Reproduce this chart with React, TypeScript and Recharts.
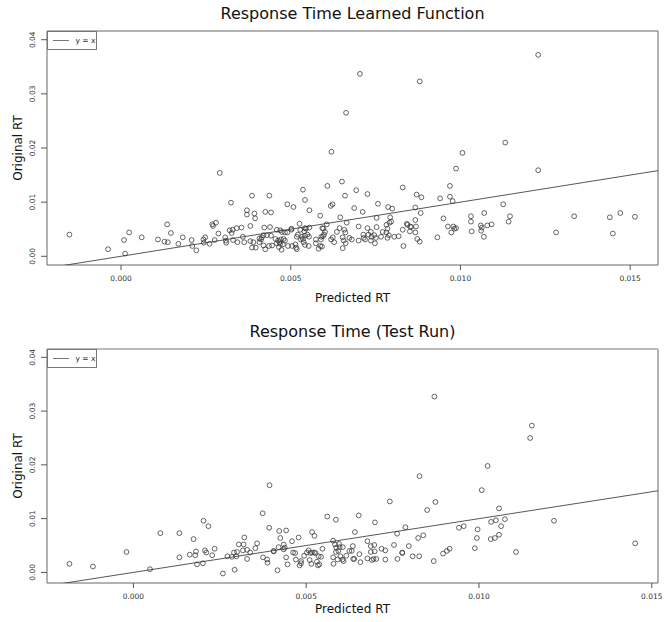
import { ScatterChart, Scatter, XAxis, YAxis, ReferenceLine, ReferenceArea } from 'recharts';

// [predicted, original] pairs
const learnedPts: [number, number][] = [
  [-0.00152, 0.004], [-0.00038, 0.0013], [0.00009, 0.003], [0.00012, 0.0005], [0.00024, 0.0044], [0.00061, 0.0035],
  [0.00109, 0.0031], [0.00128, 0.0027], [0.00138, 0.0026], [0.00136, 0.0059], [0.00147, 0.0043], [0.00169, 0.0023],
  [0.00182, 0.0035], [0.00208, 0.003], [0.0021, 0.0019], [0.00222, 0.0011], [0.00243, 0.0031], [0.00248, 0.0035],
  [0.00244, 0.0025], [0.00261, 0.0023], [0.00269, 0.0059], [0.00271, 0.0056], [0.0028, 0.0062], [0.00276, 0.003],
  [0.00287, 0.0042], [0.00291, 0.0154], [0.00307, 0.0035], [0.00309, 0.0029], [0.0031, 0.0025], [0.00324, 0.0099],
  [0.0032, 0.0048], [0.00329, 0.0049], [0.00326, 0.0043], [0.0033, 0.003], [0.00341, 0.0052], [0.00355, 0.0053],
  [0.00343, 0.0026], [0.00359, 0.0036], [0.00363, 0.0026], [0.00386, 0.0112], [0.00371, 0.0085], [0.00371, 0.0077],
  [0.00393, 0.0079], [0.00395, 0.007], [0.00381, 0.0056], [0.00381, 0.0028], [0.0039, 0.0026], [0.00386, 0.0016],
  [0.00397, 0.0016], [0.00408, 0.0033], [0.00425, 0.0082], [0.00442, 0.0081], [0.00437, 0.0112], [0.00422, 0.0053],
  [0.00439, 0.0054], [0.00413, 0.0031], [0.00415, 0.0035], [0.0042, 0.0039], [0.0043, 0.0039], [0.00442, 0.0038],
  [0.00408, 0.0026], [0.0042, 0.002], [0.00425, 0.0013], [0.00436, 0.0019], [0.00445, 0.002], [0.00459, 0.0049],
  [0.00469, 0.0048], [0.00474, 0.0045], [0.00483, 0.0044], [0.0049, 0.0044], [0.00455, 0.0032], [0.00463, 0.0029],
  [0.00467, 0.0026], [0.00471, 0.0031], [0.00479, 0.0032], [0.00483, 0.0029], [0.00459, 0.0024], [0.00469, 0.0023],
  [0.00465, 0.0017], [0.00473, 0.0012], [0.00477, 0.0022], [0.00492, 0.0019], [0.00504, 0.0019], [0.0049, 0.0096],
  [0.00508, 0.0091], [0.00502, 0.0049], [0.00502, 0.0051], [0.00514, 0.0022], [0.00518, 0.0013], [0.00516, 0.0016],
  [0.00526, 0.006], [0.00528, 0.0049], [0.00536, 0.0123], [0.00542, 0.0104], [0.00555, 0.0085], [0.00521, 0.004],
  [0.00518, 0.0036], [0.00533, 0.0036], [0.00536, 0.0032], [0.00542, 0.0052], [0.00545, 0.0051], [0.0054, 0.0046],
  [0.00542, 0.0038], [0.00549, 0.004], [0.00554, 0.0036], [0.0053, 0.0031], [0.00538, 0.0026], [0.00542, 0.0021],
  [0.00553, 0.0019], [0.00555, 0.0053], [0.00574, 0.0031], [0.00574, 0.0024], [0.00582, 0.0014], [0.00587, 0.0075],
  [0.00589, 0.0031], [0.00587, 0.0019], [0.00592, 0.0018], [0.00593, 0.0052], [0.00596, 0.0051], [0.00598, 0.004],
  [0.00595, 0.0037], [0.0059, 0.0036], [0.00601, 0.0045], [0.00606, 0.0059], [0.00608, 0.013], [0.0062, 0.0193],
  [0.00618, 0.0093], [0.00623, 0.0096], [0.00619, 0.0031], [0.00624, 0.0035], [0.00628, 0.0026], [0.00636, 0.0045],
  [0.00644, 0.0052], [0.00646, 0.0072], [0.00651, 0.0138], [0.0066, 0.0112], [0.00663, 0.0265], [0.00653, 0.0035],
  [0.00658, 0.0049], [0.00661, 0.0044], [0.00656, 0.0029], [0.00665, 0.0062], [0.00662, 0.0024], [0.00653, 0.0015],
  [0.00673, 0.0034], [0.0068, 0.0031], [0.00687, 0.0089], [0.00693, 0.0122], [0.00704, 0.0337], [0.007, 0.0055],
  [0.007, 0.0029], [0.00712, 0.0082], [0.00714, 0.004], [0.00715, 0.0034], [0.00719, 0.0031], [0.00726, 0.0115],
  [0.00726, 0.0052], [0.00729, 0.004], [0.00736, 0.0045], [0.00738, 0.0036], [0.00736, 0.0029], [0.00748, 0.0024],
  [0.00746, 0.0039], [0.00753, 0.0054], [0.00757, 0.0097], [0.00753, 0.0071], [0.00751, 0.0034], [0.00766, 0.0036],
  [0.00771, 0.0045], [0.00785, 0.0051], [0.00787, 0.0091], [0.00799, 0.0088], [0.00782, 0.0058], [0.00791, 0.0062],
  [0.00796, 0.0064], [0.00793, 0.0072], [0.00782, 0.0044], [0.00789, 0.0039], [0.00785, 0.0034], [0.00805, 0.0036],
  [0.00818, 0.0037], [0.0083, 0.0127], [0.0083, 0.0049], [0.00832, 0.0019], [0.00842, 0.006], [0.00844, 0.0058],
  [0.00852, 0.0055], [0.00851, 0.0046], [0.00855, 0.0054], [0.00867, 0.009], [0.00871, 0.0114], [0.00885, 0.0109],
  [0.00867, 0.0067], [0.00869, 0.0055], [0.00867, 0.0044], [0.00873, 0.0032], [0.0088, 0.0027], [0.0088, 0.0323],
  [0.00883, 0.008], [0.00932, 0.0035], [0.0094, 0.0107], [0.0095, 0.007], [0.00963, 0.0055], [0.00969, 0.011],
  [0.00969, 0.013], [0.00973, 0.0044], [0.00977, 0.0102], [0.00979, 0.0055], [0.00982, 0.0051], [0.00987, 0.0162],
  [0.00987, 0.0052], [0.01229, 0.0372], [0.01132, 0.021], [0.01006, 0.0191], [0.01229, 0.0159], [0.01126, 0.0096],
  [0.01031, 0.0074], [0.01031, 0.0064], [0.0107, 0.008], [0.01146, 0.0074], [0.01142, 0.0064], [0.01033, 0.0046],
  [0.0106, 0.0057], [0.01063, 0.0053], [0.01079, 0.0057], [0.01092, 0.0059], [0.01061, 0.0047], [0.01069, 0.0036],
  [0.01282, 0.0044], [0.01335, 0.0074], [0.0144, 0.0072], [0.01449, 0.0042], [0.01471, 0.008], [0.01514, 0.0073],
];

const testPts: [number, number][] = [
  [-0.00185, 0.0016], [-0.00117, 0.0011], [-0.0002, 0.0038], [0.00048, 0.0006], [0.00078, 0.0073], [0.00133, 0.0073],
  [0.00133, 0.0028], [0.00163, 0.0033], [0.00174, 0.0062], [0.00179, 0.0032], [0.00181, 0.0039], [0.00184, 0.0015],
  [0.00201, 0.0017], [0.00203, 0.0096], [0.00217, 0.0086], [0.00207, 0.0041], [0.00211, 0.0037], [0.00228, 0.0032],
  [0.00235, 0.0044], [0.00259, -0.0002], [0.00272, 0.003], [0.00285, 0.0029], [0.00293, 0.0005], [0.00291, 0.0037],
  [0.00298, 0.003], [0.003, 0.0038], [0.00305, 0.0052], [0.00319, 0.0052], [0.00321, 0.0065], [0.00317, 0.0041],
  [0.00329, 0.0042], [0.00329, 0.0025], [0.00338, 0.0037], [0.00353, 0.0045], [0.00358, 0.0054], [0.00394, 0.0162],
  [0.00374, 0.011], [0.00393, 0.0083], [0.00375, 0.0028], [0.00387, 0.0024], [0.00388, 0.0018], [0.00406, 0.0039],
  [0.00406, 0.004], [0.00417, 0.0004], [0.00422, 0.0077], [0.00442, 0.0078], [0.00425, 0.0064], [0.0042, 0.0047],
  [0.00435, 0.0052], [0.00438, 0.0046], [0.00435, 0.0043], [0.00442, 0.0028], [0.00446, 0.0015], [0.00459, 0.0058],
  [0.00478, 0.0065], [0.00462, 0.0037], [0.00468, 0.0036], [0.0047, 0.0024], [0.00485, 0.0021], [0.00485, 0.0017],
  [0.00481, 0.0013], [0.00494, 0.0031], [0.00502, 0.0037], [0.00507, 0.0041], [0.00517, 0.0075], [0.00524, 0.0068],
  [0.00512, 0.0036], [0.00517, 0.0037], [0.00523, 0.0037], [0.00527, 0.0036], [0.00536, 0.003], [0.00543, 0.0029],
  [0.00531, 0.002], [0.00538, 0.0015], [0.00534, 0.0013], [0.00515, 0.0016], [0.0051, 0.0023], [0.00547, 0.0044],
  [0.00561, 0.0104], [0.00586, 0.0098], [0.00578, 0.0059], [0.00583, 0.0052], [0.00595, 0.0053], [0.00587, 0.0046],
  [0.00597, 0.0047], [0.00606, 0.0047], [0.00586, 0.0038], [0.00593, 0.004], [0.00578, 0.0028], [0.00579, 0.0016],
  [0.00591, 0.0024], [0.00599, 0.003], [0.00605, 0.0024], [0.00608, 0.0021], [0.00616, 0.0031], [0.00625, 0.004],
  [0.00632, 0.004], [0.00635, 0.0049], [0.00636, 0.0025], [0.00639, 0.0025], [0.00641, 0.0075], [0.00652, 0.0106],
  [0.00657, 0.0019], [0.00654, 0.0034], [0.00677, 0.0058], [0.00677, 0.0026], [0.00687, 0.0049], [0.00697, 0.0051],
  [0.00687, 0.0038], [0.00698, 0.0039], [0.0069, 0.0023], [0.00695, 0.0025], [0.00703, 0.0025], [0.00699, 0.0093],
  [0.00718, 0.0044], [0.00729, 0.0041], [0.00729, 0.0024], [0.00742, 0.0132], [0.00754, 0.0051], [0.00763, 0.0072],
  [0.00764, 0.0025], [0.00778, 0.0037], [0.00778, 0.0036], [0.00787, 0.0084], [0.00797, 0.0049], [0.00808, 0.003],
  [0.00827, 0.003], [0.00824, 0.0064], [0.00839, 0.0069], [0.00828, 0.0179], [0.0085, 0.0116], [0.00874, 0.0131],
  [0.00871, 0.0327], [0.00869, 0.0021], [0.00896, 0.0035], [0.00907, 0.004], [0.00915, 0.0044], [0.00942, 0.0083],
  [0.01153, 0.0273], [0.01148, 0.025], [0.01025, 0.0198], [0.01008, 0.0153], [0.01058, 0.0119], [0.01217, 0.0096],
  [0.00956, 0.0086], [0.00996, 0.008], [0.00994, 0.0064], [0.00988, 0.0045], [0.01035, 0.0094], [0.01049, 0.0097],
  [0.01075, 0.0099], [0.01064, 0.0086], [0.01034, 0.0062], [0.01046, 0.0064], [0.01058, 0.007], [0.01107, 0.0038],
  [0.01452, 0.0054],
];

const xTicks = [0, 0.005, 0.01, 0.015];
const yTicks = [0, 0.01, 0.02, 0.03, 0.04];

const FONT = '"DejaVu Sans", sans-serif';
const W = 671;
const H = 311;

type PanelProps = {
  title: string;
  points: [number, number][];
  xDomain: [number, number];
  yDomain: [number, number];
  top: number;
  xAxisH: number;
  topEdge?: boolean;
};

const Dot = (p: any) => (
  <circle cx={p.cx} cy={p.cy} r={2.4} fill="none" stroke="#333" strokeWidth={0.75} />
);

const XTick = ({ x, y, payload }: any) => (
  <text x={x} y={y + 10.8} textAnchor="middle" fontSize={7.5} fontFamily={FONT} fill="#333">
    {payload.value.toFixed(3)}
  </text>
);

const YTick = ({ y, payload }: any) => (
  <text
    x={35.3}
    y={y}
    transform={`rotate(-90, 35.3, ${y})`}
    textAnchor="middle"
    fontSize={7.5}
    fontFamily={FONT}
    fill="#333"
  >
    {payload.value.toFixed(2)}
  </text>
);

function Panel({ title, points, xDomain, yDomain, top, xAxisH, topEdge }: PanelProps) {
  const data = points.map(([x, y]) => ({ x, y }));
  const plotLeft = 47;
  const plotRight = W - 13;
  const plotBottom = H - xAxisH;
  const cx = (plotLeft + plotRight) / 2;
  const cy = (top + plotBottom) / 2;
  return (
    <div style={{ position: 'relative', width: W, height: H }}>
      <ScatterChart width={W} height={H} margin={{ top, right: 13, bottom: 0, left: 0 }}>
        <XAxis
          type="number"
          dataKey="x"
          domain={xDomain}
          ticks={xTicks}
          allowDataOverflow
          height={xAxisH}
          axisLine={false}
          tickLine={{ stroke: '#555' }}
          tickSize={5}
          tickMargin={0}
          tick={<XTick />}
        />
        <YAxis
          type="number"
          dataKey="y"
          domain={yDomain}
          ticks={yTicks}
          allowDataOverflow
          width={47}
          axisLine={false}
          tickLine={{ stroke: '#555' }}
          tickSize={6}
          tickMargin={0}
          tick={<YTick />}
        />
        <ReferenceArea
          x1={xDomain[0]}
          x2={xDomain[1]}
          y1={yDomain[0]}
          y2={yDomain[1]}
          fill="none"
          stroke="#666"
          strokeWidth={1}
          ifOverflow="visible"
        />
        {topEdge && (
          <ReferenceLine y={yDomain[1]} stroke="#bbb" strokeWidth={2} ifOverflow="visible" />
        )}
        <ReferenceLine
          segment={[
            { x: xDomain[0], y: xDomain[0] },
            { x: xDomain[1], y: xDomain[1] },
          ]}
          stroke="#444"
          strokeWidth={0.9}
          ifOverflow="hidden"
        />
        <Scatter data={data} shape={Dot} isAnimationActive={false} />
      </ScatterChart>
      <svg
        width={W}
        height={H}
        style={{ position: 'absolute', left: 0, top: 0, pointerEvents: 'none' }}
      >
        <text x={cx} y={top - 12} textAnchor="middle" fontSize={16} fontFamily={FONT} fill="#111">
          {title}
        </text>
        <text x={cx} y={H - 9} textAnchor="middle" fontSize={12} fontFamily={FONT} fill="#111">
          Predicted RT
        </text>
        <text
          x={21.5}
          y={cy}
          transform={`rotate(-90, 21.5, ${cy})`}
          textAnchor="middle"
          fontSize={12}
          fontFamily={FONT}
          fill="#111"
        >
          Original RT
        </text>
        {/* legend box, top-left inside the plot */}
        <rect x={47.5} y={top + 0.5} width={49} height={18} fill="#fff" stroke="#777" strokeWidth={1} />
        <line x1={53} x2={69} y1={top + 9.5} y2={top + 9.5} stroke="#555" strokeWidth={0.8} />
        <text x={75.5} y={top + 12} fontSize={7.5} fontFamily={FONT} fill="#333">
          y = x
        </text>
      </svg>
    </div>
  );
}

export default function App() {
  return (
    <div style={{ position: 'absolute', left: 0, top: 0, width: W, height: 2 * H, background: '#fff' }}>
      <Panel
        title="Response Time Learned Function"
        points={learnedPts}
        xDomain={[-0.00218, 0.01582]}
        yDomain={[-0.00161, 0.04161]}
        top={31}
        xAxisH={46}
      />
      <Panel
        title="Response Time (Test Run)"
        points={testPts}
        xDomain={[-0.0025, 0.01518]}
        yDomain={[-0.00197, 0.04155]}
        top={38}
        xAxisH={39}
        topEdge
      />
    </div>
  );
}
